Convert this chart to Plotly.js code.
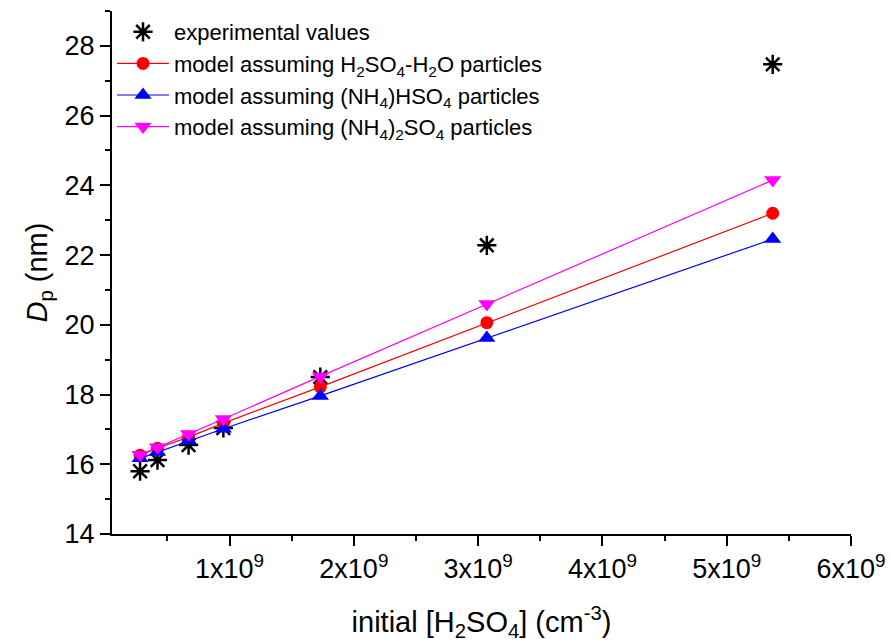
<!DOCTYPE html>
<html>
<head>
<meta charset="utf-8">
<script src="https://cdn.plot.ly/plotly-3.0.1.min.js"></script>
<style>html,body{margin:0;padding:0;background:#fff;}#chart{width:891px;height:643px;}</style>
</head>
<body>
<div id="chart"></div>
<script>
const xVals = [0.28e9, 0.42e9, 0.67e9, 0.95e9, 1.73e9, 3.07e9, 5.37e9];
const expVals = [15.80, 16.12, 16.55, 17.04, 18.50, 22.28, 27.47];
const h2so4Vals = [16.26, 16.46, 16.78, 17.18, 18.22, 20.06, 23.20];
const nh4hso4Vals = [16.17, 16.35, 16.68, 17.02, 17.96, 19.62, 22.46];
const nh42so4Vals = [16.27, 16.49, 16.87, 17.30, 18.52, 20.60, 24.15];
const xTickVals = [1e9, 2e9, 3e9, 4e9, 5e9, 6e9];
const xTickText = ["1x10<sup>9</sup>", "2x10<sup>9</sup>", "3x10<sup>9</sup>", "4x10<sup>9</sup>", "5x10<sup>9</sup>", "6x10<sup>9</sup>"];
const yTickVals = [14, 16, 18, 20, 22, 24, 26, 28];

const font = "Liberation Sans, Arial, sans-serif";

const traces = [
  {x: xVals, y: expVals, mode: "markers", name: "experimental values",
   marker: {symbol: "asterisk-open", size: 16, color: "black", line: {color: "black", width: 2.5}}},
  {x: xVals, y: h2so4Vals, mode: "lines+markers", name: "model assuming H<sub>2</sub>SO<sub>4</sub>-H<sub>2</sub>O particles",
   line: {color: "#ff0000", width: 1.2}, marker: {symbol: "circle", size: 13, color: "#ff0000"}},
  {x: xVals, y: nh4hso4Vals, mode: "lines+markers", name: "model assuming (NH<sub>4</sub>)HSO<sub>4</sub> particles",
   line: {color: "#0000ff", width: 1.2}, marker: {symbol: "triangle-up", size: 15, color: "#0000ff"}},
  {x: xVals, y: nh42so4Vals, mode: "lines+markers", name: "model assuming (NH<sub>4</sub>)<sub>2</sub>SO<sub>4</sub> particles",
   line: {color: "#ff00ff", width: 1.2}, marker: {symbol: "triangle-down", size: 15, color: "#ff00ff"}}
];

const layout = {
  width: 891, height: 643,
  margin: {l: 112, r: 40, t: 11, b: 109},
  paper_bgcolor: "white", plot_bgcolor: "white",
  font: {family: font, color: "black"},
  showlegend: true,
  legend: {x: 0.0, y: 1.0, xanchor: "left", yanchor: "top", bgcolor: "rgba(0,0,0,0)",
           font: {family: font, size: 22, color: "black"}, tracegroupgap: 0, itemwidth: 52},
  xaxis: {
    range: [0.054e9, 6e9], showgrid: false, zeroline: false,
    showline: true, linecolor: "black", linewidth: 2, mirror: false,
    ticks: "outside", ticklen: 10, tickwidth: 2, tickcolor: "black",
    tickvals: xTickVals, ticktext: xTickText,
    tickfont: {family: font, size: 27, color: "black"},
    minor: {dtick: 0.5e9, tick0: 0, ticks: "outside", ticklen: 5, tickwidth: 2, tickcolor: "black", showgrid: false},
    title: {text: "initial [H<sub>2</sub>SO<sub>4</sub>] (cm<sup>-3</sup>)", font: {family: font, size: 29, color: "black"}, standoff: 28}
  },
  yaxis: {
    range: [14, 29], showgrid: false, zeroline: false,
    showline: true, linecolor: "black", linewidth: 2, mirror: false,
    ticks: "outside", ticklen: 10, tickwidth: 2, tickcolor: "black",
    tickvals: yTickVals,
    tickfont: {family: font, size: 27, color: "black"},
    minor: {dtick: 1, tick0: 0, ticks: "outside", ticklen: 5, tickwidth: 2, tickcolor: "black", showgrid: false},
    title: {text: "<i>D</i><sub>p</sub> (nm)", font: {family: font, size: 29, color: "black"}, standoff: 8}
  }
};

Plotly.newPlot("chart", traces, layout, {displayModeBar: false, staticPlot: true});
</script>
</body>
</html>
